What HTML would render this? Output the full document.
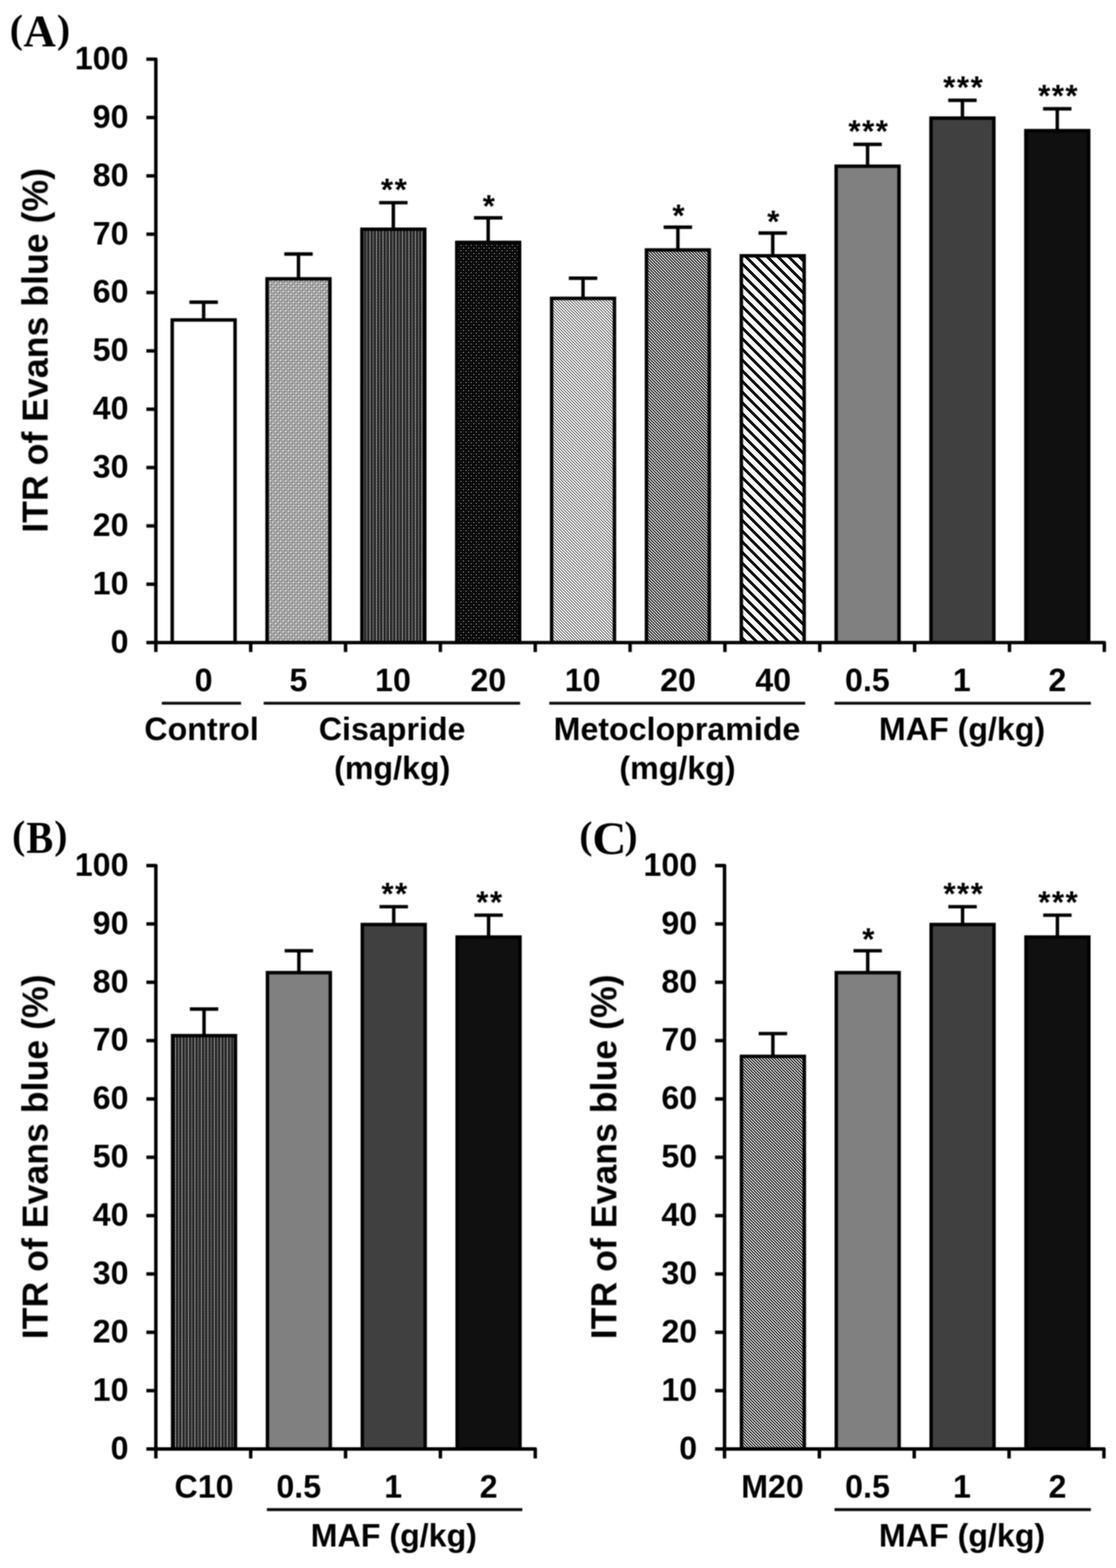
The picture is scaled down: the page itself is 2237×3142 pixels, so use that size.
<!DOCTYPE html>
<html><head><meta charset="utf-8"><title>ITR of Evans blue</title>
<style>html,body{margin:0;padding:0;background:#fff}svg{display:block}</style></head>
<body><svg width="2237" height="3142" viewBox="0 0 2237 3142">
<rect width="2237" height="3142" fill="#fff"/>
<defs>
<pattern id="p2" width="10.3" height="11" patternUnits="userSpaceOnUse">
<rect width="10.3" height="11" fill="#9c9c9c"/>
<rect x="0" y="0" width="10.3" height="11" fill="url(#p2b)"/>
<rect x="0.2" y="0.2" width="2.2" height="2.2" fill="#f2f2f2"/><rect x="5.35" y="5.7" width="2.2" height="2.2" fill="#f2f2f2"/>
<rect x="2.8" y="2.9" width="1.6" height="1.6" fill="#6a6a6a"/><rect x="7.95" y="8.4" width="1.6" height="1.6" fill="#6a6a6a"/>
</pattern>
<pattern id="p2b" width="3.43" height="3.67" patternUnits="userSpaceOnUse">
<rect width="3.43" height="3.67" fill="#9e9e9e"/><rect width="1.2" height="1.2" fill="#c6c6c6"/>
</pattern>
<pattern id="p3" width="13" height="6" patternUnits="userSpaceOnUse">
<rect width="13" height="6" fill="#3a3a3a"/>
<rect x="0" y="0" width="1.3" height="6" fill="#8a8a8a"/><rect x="6.5" y="0" width="1.1" height="6" fill="#6e6e6e"/>
<rect x="3.2" y="0" width="1.6" height="6" fill="#262626"/><rect x="9.7" y="0" width="1.6" height="6" fill="#2a2a2a"/>
<rect x="0" y="2" width="1.3" height="1" fill="#b0b0b0"/>
</pattern>
<pattern id="p4" width="10.3" height="11" patternUnits="userSpaceOnUse">
<rect width="10.3" height="11" fill="#0a0a0a"/><rect x="1" y="1" width="2.2" height="2.2" fill="#7a7a7a"/><rect x="6.15" y="6.5" width="2.2" height="2.2" fill="#7a7a7a"/>
<rect x="1.6" y="6.9" width="1.2" height="1.2" fill="#3a3a3a"/><rect x="6.7" y="1.4" width="1.2" height="1.2" fill="#3a3a3a"/>
</pattern>
<pattern id="p5" width="4.24" height="10" patternUnits="userSpaceOnUse" patternTransform="rotate(-45)">
<rect width="4.24" height="10" fill="#e4e4e4"/><rect x="0" y="0" width="1.7" height="10" fill="#808080"/>
</pattern>
<pattern id="p6" width="4.24" height="10" patternUnits="userSpaceOnUse" patternTransform="rotate(-45)">
<rect width="4.24" height="10" fill="#c0c0c0"/><rect x="0" y="0" width="2.0" height="10" fill="#383838"/>
</pattern>
<pattern id="p7" width="15.15" height="10" patternUnits="userSpaceOnUse" patternTransform="translate(0,-12.5) rotate(-45)">
<rect width="15.15" height="10" fill="#f6f6f6"/><rect x="0" y="0" width="5.7" height="10" fill="#111"/>
</pattern>
</defs>
<filter id="bl" filterUnits="userSpaceOnUse" x="0" y="0" width="2237" height="3142"><feGaussianBlur stdDeviation="0.8"/></filter>
<g>
<rect x="345.20" y="641.14" width="126" height="646.46" fill="#fff"/>
<rect x="535.32" y="558.73" width="126" height="728.87" fill="url(#p2)"/>
<rect x="725.44" y="459.36" width="126" height="828.24" fill="url(#p3)"/>
<rect x="915.56" y="485.67" width="126" height="801.93" fill="url(#p4)"/>
<rect x="1105.68" y="597.89" width="126" height="689.71" fill="url(#p5)"/>
<rect x="1295.80" y="500.86" width="126" height="786.74" fill="url(#p6)"/>
<rect x="1485.92" y="512.55" width="126" height="775.05" fill="url(#p7)"/>
<rect x="1676.04" y="333.11" width="126" height="954.49" fill="#808080"/>
<rect x="1866.16" y="236.67" width="126" height="1050.93" fill="#404040"/>
<rect x="2056.28" y="261.80" width="126" height="1025.80" fill="#101010"/>
<rect x="346.00" y="2075.26" width="126" height="828.24" fill="url(#p3)"/>
<rect x="536.12" y="1949.01" width="126" height="954.49" fill="#808080"/>
<rect x="726.24" y="1852.57" width="126" height="1050.93" fill="#404040"/>
<rect x="916.36" y="1877.70" width="126" height="1025.80" fill="#101010"/>
<rect x="1486.20" y="2116.76" width="126" height="786.74" fill="url(#p6)"/>
<rect x="1676.32" y="1949.01" width="126" height="954.49" fill="#808080"/>
<rect x="1866.44" y="1852.57" width="126" height="1050.93" fill="#404040"/>
<rect x="2056.56" y="1877.70" width="126" height="1025.80" fill="#101010"/>
</g>
<g filter="url(#bl)">
<path d="M408.20,641.14V605.49" stroke="#000" stroke-width="6.9" fill="none" stroke-linecap="butt" stroke-linejoin="miter"/>
<path d="M379.70,605.49H436.70" stroke="#000" stroke-width="6.9" fill="none" stroke-linecap="butt" stroke-linejoin="miter"/>
<rect x="345.20" y="641.14" width="126" height="646.46" fill="none" stroke="#000" stroke-width="6.9"/>
<path d="M598.32,558.73V509.05" stroke="#000" stroke-width="6.9" fill="none" stroke-linecap="butt" stroke-linejoin="miter"/>
<path d="M569.82,509.05H626.82" stroke="#000" stroke-width="6.9" fill="none" stroke-linecap="butt" stroke-linejoin="miter"/>
<rect x="535.32" y="558.73" width="126" height="728.87" fill="none" stroke="#000" stroke-width="6.9"/>
<path d="M788.44,459.36V406.17" stroke="#000" stroke-width="6.9" fill="none" stroke-linecap="butt" stroke-linejoin="miter"/>
<path d="M759.94,406.17H816.94" stroke="#000" stroke-width="6.9" fill="none" stroke-linecap="butt" stroke-linejoin="miter"/>
<rect x="725.44" y="459.36" width="126" height="828.24" fill="none" stroke="#000" stroke-width="6.9"/>
<text transform="translate(763.61,401.28) scale(1.0,1)" font-family='"Liberation Sans", Arial, sans-serif' font-size="63" font-weight="bold" letter-spacing="2.9" fill="#000">**</text>
<path d="M978.56,485.67V436.57" stroke="#000" stroke-width="6.9" fill="none" stroke-linecap="butt" stroke-linejoin="miter"/>
<path d="M950.06,436.57H1007.06" stroke="#000" stroke-width="6.9" fill="none" stroke-linecap="butt" stroke-linejoin="miter"/>
<rect x="915.56" y="485.67" width="126" height="801.93" fill="none" stroke="#000" stroke-width="6.9"/>
<text transform="translate(967.44,434.47) scale(1.0,1)" font-family='"Liberation Sans", Arial, sans-serif' font-size="63" font-weight="bold" letter-spacing="2.9" fill="#000">*</text>
<path d="M1168.68,597.89V557.56" stroke="#000" stroke-width="6.9" fill="none" stroke-linecap="butt" stroke-linejoin="miter"/>
<path d="M1140.18,557.56H1197.18" stroke="#000" stroke-width="6.9" fill="none" stroke-linecap="butt" stroke-linejoin="miter"/>
<rect x="1105.68" y="597.89" width="126" height="689.71" fill="none" stroke="#000" stroke-width="6.9"/>
<path d="M1358.80,500.86V455.27" stroke="#000" stroke-width="6.9" fill="none" stroke-linecap="butt" stroke-linejoin="miter"/>
<path d="M1330.30,455.27H1387.30" stroke="#000" stroke-width="6.9" fill="none" stroke-linecap="butt" stroke-linejoin="miter"/>
<rect x="1295.80" y="500.86" width="126" height="786.74" fill="none" stroke="#000" stroke-width="6.9"/>
<text transform="translate(1347.68,453.17) scale(1.0,1)" font-family='"Liberation Sans", Arial, sans-serif' font-size="63" font-weight="bold" letter-spacing="2.9" fill="#000">*</text>
<path d="M1548.92,512.55V466.96" stroke="#000" stroke-width="6.9" fill="none" stroke-linecap="butt" stroke-linejoin="miter"/>
<path d="M1520.42,466.96H1577.42" stroke="#000" stroke-width="6.9" fill="none" stroke-linecap="butt" stroke-linejoin="miter"/>
<rect x="1485.92" y="512.55" width="126" height="775.05" fill="none" stroke="#000" stroke-width="6.9"/>
<text transform="translate(1537.80,464.86) scale(1.0,1)" font-family='"Liberation Sans", Arial, sans-serif' font-size="63" font-weight="bold" letter-spacing="2.9" fill="#000">*</text>
<path d="M1739.04,333.11V289.27" stroke="#000" stroke-width="6.9" fill="none" stroke-linecap="butt" stroke-linejoin="miter"/>
<path d="M1710.54,289.27H1767.54" stroke="#000" stroke-width="6.9" fill="none" stroke-linecap="butt" stroke-linejoin="miter"/>
<rect x="1676.04" y="333.11" width="126" height="954.49" fill="none" stroke="#000" stroke-width="6.9"/>
<text transform="translate(1700.50,284.38) scale(1.0,1)" font-family='"Liberation Sans", Arial, sans-serif' font-size="63" font-weight="bold" letter-spacing="2.9" fill="#000">***</text>
<path d="M1929.16,236.67V201.01" stroke="#000" stroke-width="6.9" fill="none" stroke-linecap="butt" stroke-linejoin="miter"/>
<path d="M1900.66,201.01H1957.66" stroke="#000" stroke-width="6.9" fill="none" stroke-linecap="butt" stroke-linejoin="miter"/>
<rect x="1866.16" y="236.67" width="126" height="1050.93" fill="none" stroke="#000" stroke-width="6.9"/>
<text transform="translate(1890.62,196.12) scale(1.0,1)" font-family='"Liberation Sans", Arial, sans-serif' font-size="63" font-weight="bold" letter-spacing="2.9" fill="#000">***</text>
<path d="M2119.28,261.80V217.96" stroke="#000" stroke-width="6.9" fill="none" stroke-linecap="butt" stroke-linejoin="miter"/>
<path d="M2090.78,217.96H2147.78" stroke="#000" stroke-width="6.9" fill="none" stroke-linecap="butt" stroke-linejoin="miter"/>
<rect x="2056.28" y="261.80" width="126" height="1025.80" fill="none" stroke="#000" stroke-width="6.9"/>
<text transform="translate(2080.74,213.07) scale(1.0,1)" font-family='"Liberation Sans", Arial, sans-serif' font-size="63" font-weight="bold" letter-spacing="2.9" fill="#000">***</text>
<path d="M293.40,118.60H312.40V1306.60" stroke="#000" stroke-width="6.9" fill="none" stroke-linecap="butt" stroke-linejoin="round"/>
<path d="M293.40,1287.60H312.40" stroke="#000" stroke-width="6.9" fill="none" stroke-linecap="butt" stroke-linejoin="miter"/>
<path d="M293.40,1170.70H312.40" stroke="#000" stroke-width="6.9" fill="none" stroke-linecap="butt" stroke-linejoin="miter"/>
<path d="M293.40,1053.80H312.40" stroke="#000" stroke-width="6.9" fill="none" stroke-linecap="butt" stroke-linejoin="miter"/>
<path d="M293.40,936.90H312.40" stroke="#000" stroke-width="6.9" fill="none" stroke-linecap="butt" stroke-linejoin="miter"/>
<path d="M293.40,820.00H312.40" stroke="#000" stroke-width="6.9" fill="none" stroke-linecap="butt" stroke-linejoin="miter"/>
<path d="M293.40,703.10H312.40" stroke="#000" stroke-width="6.9" fill="none" stroke-linecap="butt" stroke-linejoin="miter"/>
<path d="M293.40,586.20H312.40" stroke="#000" stroke-width="6.9" fill="none" stroke-linecap="butt" stroke-linejoin="miter"/>
<path d="M293.40,469.30H312.40" stroke="#000" stroke-width="6.9" fill="none" stroke-linecap="butt" stroke-linejoin="miter"/>
<path d="M293.40,352.40H312.40" stroke="#000" stroke-width="6.9" fill="none" stroke-linecap="butt" stroke-linejoin="miter"/>
<path d="M293.40,235.50H312.40" stroke="#000" stroke-width="6.9" fill="none" stroke-linecap="butt" stroke-linejoin="miter"/>
<path d="M312.40,1287.60H2213.60V1306.60" stroke="#000" stroke-width="6.9" fill="none" stroke-linecap="butt" stroke-linejoin="round"/>
<path d="M502.52,1287.60V1306.60" stroke="#000" stroke-width="6.9" fill="none" stroke-linecap="butt" stroke-linejoin="miter"/>
<path d="M692.64,1287.60V1306.60" stroke="#000" stroke-width="6.9" fill="none" stroke-linecap="butt" stroke-linejoin="miter"/>
<path d="M882.76,1287.60V1306.60" stroke="#000" stroke-width="6.9" fill="none" stroke-linecap="butt" stroke-linejoin="miter"/>
<path d="M1072.88,1287.60V1306.60" stroke="#000" stroke-width="6.9" fill="none" stroke-linecap="butt" stroke-linejoin="miter"/>
<path d="M1263.00,1287.60V1306.60" stroke="#000" stroke-width="6.9" fill="none" stroke-linecap="butt" stroke-linejoin="miter"/>
<path d="M1453.12,1287.60V1306.60" stroke="#000" stroke-width="6.9" fill="none" stroke-linecap="butt" stroke-linejoin="miter"/>
<path d="M1643.24,1287.60V1306.60" stroke="#000" stroke-width="6.9" fill="none" stroke-linecap="butt" stroke-linejoin="miter"/>
<path d="M1833.36,1287.60V1306.60" stroke="#000" stroke-width="6.9" fill="none" stroke-linecap="butt" stroke-linejoin="miter"/>
<path d="M2023.48,1287.60V1306.60" stroke="#000" stroke-width="6.9" fill="none" stroke-linecap="butt" stroke-linejoin="miter"/>
<text transform="translate(221.67,1307.80) scale(1.0,1)" font-family='"Liberation Sans", Arial, sans-serif' font-size="64.5" font-weight="bold" fill="#000">0</text>
<text transform="translate(185.80,1190.90) scale(1.0,1)" font-family='"Liberation Sans", Arial, sans-serif' font-size="64.5" font-weight="bold" fill="#000">10</text>
<text transform="translate(185.80,1074.00) scale(1.0,1)" font-family='"Liberation Sans", Arial, sans-serif' font-size="64.5" font-weight="bold" fill="#000">20</text>
<text transform="translate(185.80,957.10) scale(1.0,1)" font-family='"Liberation Sans", Arial, sans-serif' font-size="64.5" font-weight="bold" fill="#000">30</text>
<text transform="translate(185.80,840.20) scale(1.0,1)" font-family='"Liberation Sans", Arial, sans-serif' font-size="64.5" font-weight="bold" fill="#000">40</text>
<text transform="translate(185.80,723.30) scale(1.0,1)" font-family='"Liberation Sans", Arial, sans-serif' font-size="64.5" font-weight="bold" fill="#000">50</text>
<text transform="translate(185.80,606.40) scale(1.0,1)" font-family='"Liberation Sans", Arial, sans-serif' font-size="64.5" font-weight="bold" fill="#000">60</text>
<text transform="translate(185.80,489.50) scale(1.0,1)" font-family='"Liberation Sans", Arial, sans-serif' font-size="64.5" font-weight="bold" fill="#000">70</text>
<text transform="translate(185.80,372.60) scale(1.0,1)" font-family='"Liberation Sans", Arial, sans-serif' font-size="64.5" font-weight="bold" fill="#000">80</text>
<text transform="translate(185.80,255.70) scale(1.0,1)" font-family='"Liberation Sans", Arial, sans-serif' font-size="64.5" font-weight="bold" fill="#000">90</text>
<text transform="translate(149.93,138.80) scale(1.0,1)" font-family='"Liberation Sans", Arial, sans-serif' font-size="64.5" font-weight="bold" fill="#000">100</text>
<text transform="translate(95.40,701.50) rotate(-90)" x="-366.09" y="0" font-family='"Liberation Sans", Arial, sans-serif' font-size="71.5" font-weight="bold">ITR of Evans blue (%)</text>
<text transform="translate(390.31,1385.10) scale(1.0,1)" font-family='"Liberation Sans", Arial, sans-serif' font-size="64.5" font-weight="bold" fill="#000">0</text>
<text transform="translate(580.29,1385.10) scale(1.0,1)" font-family='"Liberation Sans", Arial, sans-serif' font-size="64.5" font-weight="bold" fill="#000">5</text>
<text transform="translate(751.86,1385.10) scale(1.0,1)" font-family='"Liberation Sans", Arial, sans-serif' font-size="64.5" font-weight="bold" fill="#000">10</text>
<text transform="translate(942.89,1385.10) scale(1.0,1)" font-family='"Liberation Sans", Arial, sans-serif' font-size="64.5" font-weight="bold" fill="#000">20</text>
<text transform="translate(1132.10,1385.10) scale(1.0,1)" font-family='"Liberation Sans", Arial, sans-serif' font-size="64.5" font-weight="bold" fill="#000">10</text>
<text transform="translate(1323.13,1385.10) scale(1.0,1)" font-family='"Liberation Sans", Arial, sans-serif' font-size="64.5" font-weight="bold" fill="#000">20</text>
<text transform="translate(1513.88,1385.10) scale(1.0,1)" font-family='"Liberation Sans", Arial, sans-serif' font-size="64.5" font-weight="bold" fill="#000">40</text>
<text transform="translate(1693.83,1385.10) scale(1.0,1)" font-family='"Liberation Sans", Arial, sans-serif' font-size="64.5" font-weight="bold" fill="#000">0.5</text>
<text transform="translate(1910.09,1385.10) scale(1.0,1)" font-family='"Liberation Sans", Arial, sans-serif' font-size="64.5" font-weight="bold" fill="#000">1</text>
<text transform="translate(2101.52,1385.10) scale(1.0,1)" font-family='"Liberation Sans", Arial, sans-serif' font-size="64.5" font-weight="bold" fill="#000">2</text>
<path d="M324.30,1409.10H483.20" stroke="#111" stroke-width="5.8" fill="none" stroke-linecap="butt" stroke-linejoin="miter"/>
<text transform="translate(289.32,1482.60) scale(1.0,1)" font-family='"Liberation Sans", Arial, sans-serif' font-size="64.5" font-weight="bold" fill="#000">Control</text>
<path d="M528.50,1409.10H1042.50" stroke="#111" stroke-width="5.8" fill="none" stroke-linecap="butt" stroke-linejoin="miter"/>
<text transform="translate(639.01,1482.60) scale(1.0,1)" font-family='"Liberation Sans", Arial, sans-serif' font-size="64.5" font-weight="bold" fill="#000">Cisapride</text>
<text transform="translate(669.75,1560.60) scale(1.0,1)" font-family='"Liberation Sans", Arial, sans-serif' font-size="64.5" font-weight="bold" fill="#000">(mg/kg)</text>
<path d="M1101.00,1409.10H1614.00" stroke="#111" stroke-width="5.8" fill="none" stroke-linecap="butt" stroke-linejoin="miter"/>
<text transform="translate(1109.65,1482.60) scale(1.0,1)" font-family='"Liberation Sans", Arial, sans-serif' font-size="64.5" font-weight="bold" fill="#000">Metoclopramide</text>
<text transform="translate(1241.55,1560.60) scale(1.0,1)" font-family='"Liberation Sans", Arial, sans-serif' font-size="64.5" font-weight="bold" fill="#000">(mg/kg)</text>
<path d="M1672.80,1409.10H2186.70" stroke="#111" stroke-width="5.8" fill="none" stroke-linecap="butt" stroke-linejoin="miter"/>
<text transform="translate(1761.86,1482.60) scale(1.0,1)" font-family='"Liberation Sans", Arial, sans-serif' font-size="64.5" font-weight="bold" fill="#000">MAF (g/kg)</text>
<text transform="translate(19.39,84.90) scale(1.0,1)" font-family='"Liberation Serif", "Times New Roman", serif' font-size="79.85" font-weight="bold" fill="#000">(</text>
<text transform="translate(114.12,84.90) scale(1.0,1)" font-family='"Liberation Serif", "Times New Roman", serif' font-size="79.85" font-weight="bold" fill="#000">)</text>
<text transform="translate(47.02,92.80) scale(0.983,1)" font-family='"Liberation Serif", "Times New Roman", serif' font-size="91.5" font-weight="bold" fill="#000">A</text>
<path d="M409.00,2075.26V2022.07" stroke="#000" stroke-width="6.9" fill="none" stroke-linecap="butt" stroke-linejoin="miter"/>
<path d="M380.50,2022.07H437.50" stroke="#000" stroke-width="6.9" fill="none" stroke-linecap="butt" stroke-linejoin="miter"/>
<rect x="346.00" y="2075.26" width="126" height="828.24" fill="none" stroke="#000" stroke-width="6.9"/>
<path d="M599.12,1949.01V1905.17" stroke="#000" stroke-width="6.9" fill="none" stroke-linecap="butt" stroke-linejoin="miter"/>
<path d="M570.62,1905.17H627.62" stroke="#000" stroke-width="6.9" fill="none" stroke-linecap="butt" stroke-linejoin="miter"/>
<rect x="536.12" y="1949.01" width="126" height="954.49" fill="none" stroke="#000" stroke-width="6.9"/>
<path d="M789.24,1852.57V1816.91" stroke="#000" stroke-width="6.9" fill="none" stroke-linecap="butt" stroke-linejoin="miter"/>
<path d="M760.74,1816.91H817.74" stroke="#000" stroke-width="6.9" fill="none" stroke-linecap="butt" stroke-linejoin="miter"/>
<rect x="726.24" y="1852.57" width="126" height="1050.93" fill="none" stroke="#000" stroke-width="6.9"/>
<text transform="translate(764.41,1812.02) scale(1.0,1)" font-family='"Liberation Sans", Arial, sans-serif' font-size="63" font-weight="bold" letter-spacing="2.9" fill="#000">**</text>
<path d="M979.36,1877.70V1833.87" stroke="#000" stroke-width="6.9" fill="none" stroke-linecap="butt" stroke-linejoin="miter"/>
<path d="M950.86,1833.87H1007.86" stroke="#000" stroke-width="6.9" fill="none" stroke-linecap="butt" stroke-linejoin="miter"/>
<rect x="916.36" y="1877.70" width="126" height="1025.80" fill="none" stroke="#000" stroke-width="6.9"/>
<text transform="translate(954.53,1828.97) scale(1.0,1)" font-family='"Liberation Sans", Arial, sans-serif' font-size="63" font-weight="bold" letter-spacing="2.9" fill="#000">**</text>
<path d="M293.40,1734.50H312.40V2922.50" stroke="#000" stroke-width="6.9" fill="none" stroke-linecap="butt" stroke-linejoin="round"/>
<path d="M293.40,2903.50H312.40" stroke="#000" stroke-width="6.9" fill="none" stroke-linecap="butt" stroke-linejoin="miter"/>
<path d="M293.40,2786.60H312.40" stroke="#000" stroke-width="6.9" fill="none" stroke-linecap="butt" stroke-linejoin="miter"/>
<path d="M293.40,2669.70H312.40" stroke="#000" stroke-width="6.9" fill="none" stroke-linecap="butt" stroke-linejoin="miter"/>
<path d="M293.40,2552.80H312.40" stroke="#000" stroke-width="6.9" fill="none" stroke-linecap="butt" stroke-linejoin="miter"/>
<path d="M293.40,2435.90H312.40" stroke="#000" stroke-width="6.9" fill="none" stroke-linecap="butt" stroke-linejoin="miter"/>
<path d="M293.40,2319.00H312.40" stroke="#000" stroke-width="6.9" fill="none" stroke-linecap="butt" stroke-linejoin="miter"/>
<path d="M293.40,2202.10H312.40" stroke="#000" stroke-width="6.9" fill="none" stroke-linecap="butt" stroke-linejoin="miter"/>
<path d="M293.40,2085.20H312.40" stroke="#000" stroke-width="6.9" fill="none" stroke-linecap="butt" stroke-linejoin="miter"/>
<path d="M293.40,1968.30H312.40" stroke="#000" stroke-width="6.9" fill="none" stroke-linecap="butt" stroke-linejoin="miter"/>
<path d="M293.40,1851.40H312.40" stroke="#000" stroke-width="6.9" fill="none" stroke-linecap="butt" stroke-linejoin="miter"/>
<path d="M312.40,2903.50H1072.88V2922.50" stroke="#000" stroke-width="6.9" fill="none" stroke-linecap="butt" stroke-linejoin="round"/>
<path d="M502.52,2903.50V2922.50" stroke="#000" stroke-width="6.9" fill="none" stroke-linecap="butt" stroke-linejoin="miter"/>
<path d="M692.64,2903.50V2922.50" stroke="#000" stroke-width="6.9" fill="none" stroke-linecap="butt" stroke-linejoin="miter"/>
<path d="M882.76,2903.50V2922.50" stroke="#000" stroke-width="6.9" fill="none" stroke-linecap="butt" stroke-linejoin="miter"/>
<text transform="translate(221.67,2923.70) scale(1.0,1)" font-family='"Liberation Sans", Arial, sans-serif' font-size="64.5" font-weight="bold" fill="#000">0</text>
<text transform="translate(185.80,2806.80) scale(1.0,1)" font-family='"Liberation Sans", Arial, sans-serif' font-size="64.5" font-weight="bold" fill="#000">10</text>
<text transform="translate(185.80,2689.90) scale(1.0,1)" font-family='"Liberation Sans", Arial, sans-serif' font-size="64.5" font-weight="bold" fill="#000">20</text>
<text transform="translate(185.80,2573.00) scale(1.0,1)" font-family='"Liberation Sans", Arial, sans-serif' font-size="64.5" font-weight="bold" fill="#000">30</text>
<text transform="translate(185.80,2456.10) scale(1.0,1)" font-family='"Liberation Sans", Arial, sans-serif' font-size="64.5" font-weight="bold" fill="#000">40</text>
<text transform="translate(185.80,2339.20) scale(1.0,1)" font-family='"Liberation Sans", Arial, sans-serif' font-size="64.5" font-weight="bold" fill="#000">50</text>
<text transform="translate(185.80,2222.30) scale(1.0,1)" font-family='"Liberation Sans", Arial, sans-serif' font-size="64.5" font-weight="bold" fill="#000">60</text>
<text transform="translate(185.80,2105.40) scale(1.0,1)" font-family='"Liberation Sans", Arial, sans-serif' font-size="64.5" font-weight="bold" fill="#000">70</text>
<text transform="translate(185.80,1988.50) scale(1.0,1)" font-family='"Liberation Sans", Arial, sans-serif' font-size="64.5" font-weight="bold" fill="#000">80</text>
<text transform="translate(185.80,1871.60) scale(1.0,1)" font-family='"Liberation Sans", Arial, sans-serif' font-size="64.5" font-weight="bold" fill="#000">90</text>
<text transform="translate(149.93,1754.70) scale(1.0,1)" font-family='"Liberation Sans", Arial, sans-serif' font-size="64.5" font-weight="bold" fill="#000">100</text>
<text transform="translate(95.40,2317.50) rotate(-90)" x="-366.09" y="0" font-family='"Liberation Sans", Arial, sans-serif' font-size="71.5" font-weight="bold">ITR of Evans blue (%)</text>
<text transform="translate(349.84,3001.00) scale(1.0,1)" font-family='"Liberation Sans", Arial, sans-serif' font-size="64.5" font-weight="bold" fill="#000">C10</text>
<text transform="translate(553.91,3001.00) scale(1.0,1)" font-family='"Liberation Sans", Arial, sans-serif' font-size="64.5" font-weight="bold" fill="#000">0.5</text>
<text transform="translate(770.17,3001.00) scale(1.0,1)" font-family='"Liberation Sans", Arial, sans-serif' font-size="64.5" font-weight="bold" fill="#000">1</text>
<text transform="translate(961.60,3001.00) scale(1.0,1)" font-family='"Liberation Sans", Arial, sans-serif' font-size="64.5" font-weight="bold" fill="#000">2</text>
<path d="M535.00,3025.00H1047.00" stroke="#111" stroke-width="5.8" fill="none" stroke-linecap="butt" stroke-linejoin="miter"/>
<text transform="translate(622.86,3098.50) scale(1.0,1)" font-family='"Liberation Sans", Arial, sans-serif' font-size="64.5" font-weight="bold" fill="#000">MAF (g/kg)</text>
<text transform="translate(24.21,1699.80) scale(1.0,1)" font-family='"Liberation Serif", "Times New Roman", serif' font-size="79.41" font-weight="bold" fill="#000">(</text>
<text transform="translate(108.65,1699.80) scale(1.0,1)" font-family='"Liberation Serif", "Times New Roman", serif' font-size="79.41" font-weight="bold" fill="#000">)</text>
<text transform="translate(52.66,1708.50) scale(0.885,1)" font-family='"Liberation Serif", "Times New Roman", serif' font-size="91.5" font-weight="bold" fill="#000">B</text>
<path d="M1549.20,2116.76V2071.17" stroke="#000" stroke-width="6.9" fill="none" stroke-linecap="butt" stroke-linejoin="miter"/>
<path d="M1520.70,2071.17H1577.70" stroke="#000" stroke-width="6.9" fill="none" stroke-linecap="butt" stroke-linejoin="miter"/>
<rect x="1486.20" y="2116.76" width="126" height="786.74" fill="none" stroke="#000" stroke-width="6.9"/>
<path d="M1739.32,1949.01V1905.17" stroke="#000" stroke-width="6.9" fill="none" stroke-linecap="butt" stroke-linejoin="miter"/>
<path d="M1710.82,1905.17H1767.82" stroke="#000" stroke-width="6.9" fill="none" stroke-linecap="butt" stroke-linejoin="miter"/>
<rect x="1676.32" y="1949.01" width="126" height="954.49" fill="none" stroke="#000" stroke-width="6.9"/>
<text transform="translate(1728.20,1903.08) scale(1.0,1)" font-family='"Liberation Sans", Arial, sans-serif' font-size="63" font-weight="bold" letter-spacing="2.9" fill="#000">*</text>
<path d="M1929.44,1852.57V1816.91" stroke="#000" stroke-width="6.9" fill="none" stroke-linecap="butt" stroke-linejoin="miter"/>
<path d="M1900.94,1816.91H1957.94" stroke="#000" stroke-width="6.9" fill="none" stroke-linecap="butt" stroke-linejoin="miter"/>
<rect x="1866.44" y="1852.57" width="126" height="1050.93" fill="none" stroke="#000" stroke-width="6.9"/>
<text transform="translate(1890.90,1812.02) scale(1.0,1)" font-family='"Liberation Sans", Arial, sans-serif' font-size="63" font-weight="bold" letter-spacing="2.9" fill="#000">***</text>
<path d="M2119.56,1877.70V1833.87" stroke="#000" stroke-width="6.9" fill="none" stroke-linecap="butt" stroke-linejoin="miter"/>
<path d="M2091.06,1833.87H2148.06" stroke="#000" stroke-width="6.9" fill="none" stroke-linecap="butt" stroke-linejoin="miter"/>
<rect x="2056.56" y="1877.70" width="126" height="1025.80" fill="none" stroke="#000" stroke-width="6.9"/>
<text transform="translate(2081.02,1828.97) scale(1.0,1)" font-family='"Liberation Sans", Arial, sans-serif' font-size="63" font-weight="bold" letter-spacing="2.9" fill="#000">***</text>
<path d="M1433.30,1734.50H1452.30V2922.50" stroke="#000" stroke-width="6.9" fill="none" stroke-linecap="butt" stroke-linejoin="round"/>
<path d="M1433.30,2903.50H1452.30" stroke="#000" stroke-width="6.9" fill="none" stroke-linecap="butt" stroke-linejoin="miter"/>
<path d="M1433.30,2786.60H1452.30" stroke="#000" stroke-width="6.9" fill="none" stroke-linecap="butt" stroke-linejoin="miter"/>
<path d="M1433.30,2669.70H1452.30" stroke="#000" stroke-width="6.9" fill="none" stroke-linecap="butt" stroke-linejoin="miter"/>
<path d="M1433.30,2552.80H1452.30" stroke="#000" stroke-width="6.9" fill="none" stroke-linecap="butt" stroke-linejoin="miter"/>
<path d="M1433.30,2435.90H1452.30" stroke="#000" stroke-width="6.9" fill="none" stroke-linecap="butt" stroke-linejoin="miter"/>
<path d="M1433.30,2319.00H1452.30" stroke="#000" stroke-width="6.9" fill="none" stroke-linecap="butt" stroke-linejoin="miter"/>
<path d="M1433.30,2202.10H1452.30" stroke="#000" stroke-width="6.9" fill="none" stroke-linecap="butt" stroke-linejoin="miter"/>
<path d="M1433.30,2085.20H1452.30" stroke="#000" stroke-width="6.9" fill="none" stroke-linecap="butt" stroke-linejoin="miter"/>
<path d="M1433.30,1968.30H1452.30" stroke="#000" stroke-width="6.9" fill="none" stroke-linecap="butt" stroke-linejoin="miter"/>
<path d="M1433.30,1851.40H1452.30" stroke="#000" stroke-width="6.9" fill="none" stroke-linecap="butt" stroke-linejoin="miter"/>
<path d="M1452.30,2903.50H2212.78V2922.50" stroke="#000" stroke-width="6.9" fill="none" stroke-linecap="butt" stroke-linejoin="round"/>
<path d="M1642.42,2903.50V2922.50" stroke="#000" stroke-width="6.9" fill="none" stroke-linecap="butt" stroke-linejoin="miter"/>
<path d="M1832.54,2903.50V2922.50" stroke="#000" stroke-width="6.9" fill="none" stroke-linecap="butt" stroke-linejoin="miter"/>
<path d="M2022.66,2903.50V2922.50" stroke="#000" stroke-width="6.9" fill="none" stroke-linecap="butt" stroke-linejoin="miter"/>
<text transform="translate(1361.57,2923.70) scale(1.0,1)" font-family='"Liberation Sans", Arial, sans-serif' font-size="64.5" font-weight="bold" fill="#000">0</text>
<text transform="translate(1325.70,2806.80) scale(1.0,1)" font-family='"Liberation Sans", Arial, sans-serif' font-size="64.5" font-weight="bold" fill="#000">10</text>
<text transform="translate(1325.70,2689.90) scale(1.0,1)" font-family='"Liberation Sans", Arial, sans-serif' font-size="64.5" font-weight="bold" fill="#000">20</text>
<text transform="translate(1325.70,2573.00) scale(1.0,1)" font-family='"Liberation Sans", Arial, sans-serif' font-size="64.5" font-weight="bold" fill="#000">30</text>
<text transform="translate(1325.70,2456.10) scale(1.0,1)" font-family='"Liberation Sans", Arial, sans-serif' font-size="64.5" font-weight="bold" fill="#000">40</text>
<text transform="translate(1325.70,2339.20) scale(1.0,1)" font-family='"Liberation Sans", Arial, sans-serif' font-size="64.5" font-weight="bold" fill="#000">50</text>
<text transform="translate(1325.70,2222.30) scale(1.0,1)" font-family='"Liberation Sans", Arial, sans-serif' font-size="64.5" font-weight="bold" fill="#000">60</text>
<text transform="translate(1325.70,2105.40) scale(1.0,1)" font-family='"Liberation Sans", Arial, sans-serif' font-size="64.5" font-weight="bold" fill="#000">70</text>
<text transform="translate(1325.70,1988.50) scale(1.0,1)" font-family='"Liberation Sans", Arial, sans-serif' font-size="64.5" font-weight="bold" fill="#000">80</text>
<text transform="translate(1325.70,1871.60) scale(1.0,1)" font-family='"Liberation Sans", Arial, sans-serif' font-size="64.5" font-weight="bold" fill="#000">90</text>
<text transform="translate(1289.83,1754.70) scale(1.0,1)" font-family='"Liberation Sans", Arial, sans-serif' font-size="64.5" font-weight="bold" fill="#000">100</text>
<text transform="translate(1235.40,2317.50) rotate(-90)" x="-366.09" y="0" font-family='"Liberation Sans", Arial, sans-serif' font-size="71.5" font-weight="bold">ITR of Evans blue (%)</text>
<text transform="translate(1485.63,3001.00) scale(1.0,1)" font-family='"Liberation Sans", Arial, sans-serif' font-size="64.5" font-weight="bold" fill="#000">M20</text>
<text transform="translate(1694.11,3001.00) scale(1.0,1)" font-family='"Liberation Sans", Arial, sans-serif' font-size="64.5" font-weight="bold" fill="#000">0.5</text>
<text transform="translate(1910.37,3001.00) scale(1.0,1)" font-family='"Liberation Sans", Arial, sans-serif' font-size="64.5" font-weight="bold" fill="#000">1</text>
<text transform="translate(2101.80,3001.00) scale(1.0,1)" font-family='"Liberation Sans", Arial, sans-serif' font-size="64.5" font-weight="bold" fill="#000">2</text>
<path d="M1672.80,3025.00H2186.70" stroke="#111" stroke-width="5.8" fill="none" stroke-linecap="butt" stroke-linejoin="miter"/>
<text transform="translate(1761.86,3098.50) scale(1.0,1)" font-family='"Liberation Sans", Arial, sans-serif' font-size="64.5" font-weight="bold" fill="#000">MAF (g/kg)</text>
<text transform="translate(1161.23,1699.91) scale(1.0,1)" font-family='"Liberation Serif", "Times New Roman", serif' font-size="78.85" font-weight="bold" fill="#000">(</text>
<text transform="translate(1251.81,1699.91) scale(1.0,1)" font-family='"Liberation Serif", "Times New Roman", serif' font-size="78.85" font-weight="bold" fill="#000">)</text>
<text transform="translate(1187.18,1710.60) scale(1.007,1)" font-family='"Liberation Serif", "Times New Roman", serif' font-size="94" font-weight="bold" fill="#000">C</text>
</g>
</svg></body></html>
